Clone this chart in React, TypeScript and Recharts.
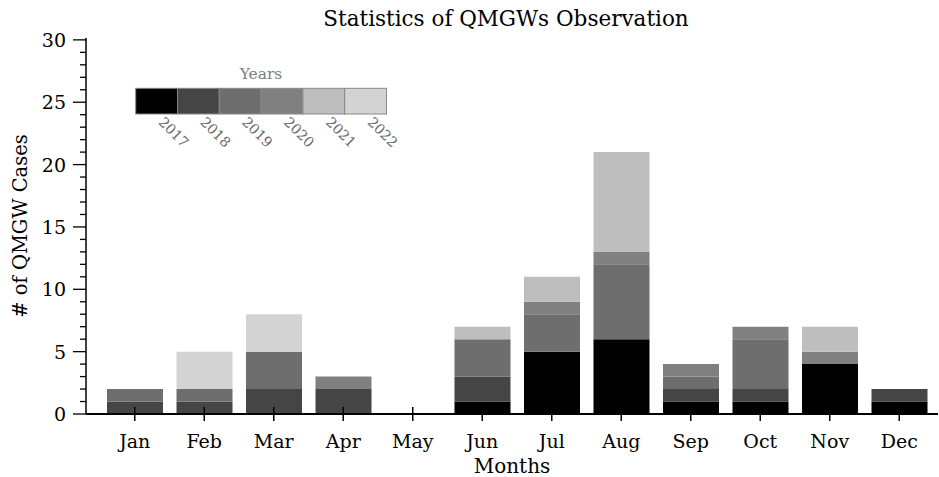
import React from 'react';
import { BarChart, Bar, XAxis, YAxis, Legend } from 'recharts';

const months = ['Jan', 'Feb', 'Mar', 'Apr', 'May', 'Jun', 'Jul', 'Aug', 'Sep', 'Oct', 'Nov', 'Dec'];
const years = ['2017', '2018', '2019', '2020', '2021', '2022'];

// cases per month, one array per year
const cases2017 = [0, 0, 0, 0, 0, 1, 5, 6, 1, 1, 4, 1];
const cases2018 = [1, 1, 2, 2, 0, 2, 0, 0, 1, 1, 0, 1];
const cases2019 = [1, 1, 3, 0, 0, 3, 3, 6, 1, 4, 0, 0];
const cases2020 = [0, 0, 0, 1, 0, 0, 1, 1, 1, 1, 1, 0];
const cases2021 = [0, 0, 0, 0, 0, 1, 2, 8, 0, 0, 2, 0];
const cases2022 = [0, 3, 3, 0, 0, 0, 0, 0, 0, 0, 0, 0];

const majorTicks = [0, 5, 10, 15, 20, 25, 30];
const allTicks = [
  0, 1, 2, 3, 4, 5, 6, 7, 8, 9, 10, 11, 12, 13, 14, 15,
  16, 17, 18, 19, 20, 21, 22, 23, 24, 25, 26, 27, 28, 29, 30,
];

const yearColors = ['#000000', '#454545', '#6e6e6e', '#808080', '#bebebe', '#d3d3d3'];
const FONT = '"DejaVu Serif", serif';

const series = [cases2017, cases2018, cases2019, cases2020, cases2021, cases2022];
const data = months.map((month, i) => {
  const row: Record<string, string | number> = { month };
  years.forEach((y, k) => {
    row[y] = series[k][i];
  });
  return row;
});

const MonthTick = ({ x, y, payload }: any) => (
  <g>
    <line x1={x} x2={x} y1={y - 7} y2={y + 7} stroke="#000" strokeWidth={1.5} />
    <text x={x} y={y + 34} textAnchor="middle" fontSize={19} fontFamily={FONT} fill="#000">
      {payload.value}
    </text>
  </g>
);

const CountTick = ({ x, y, payload }: any) => {
  const major = majorTicks.includes(payload.value);
  return (
    <g>
      <line x1={x - (major ? 13 : 6)} x2={x} y1={y} y2={y} stroke="#000" strokeWidth={1.3} />
      {major && (
        <text x={x - 20} y={y + 7} textAnchor="end" fontSize={19} fontFamily={FONT} fill="#000">
          {payload.value}
        </text>
      )}
    </g>
  );
};

const YearLegend = ({ payload }: any) => {
  const items = [...(payload || [])].sort((a, b) => String(a.value).localeCompare(String(b.value)));
  const w = 41.8;
  return (
    <svg width={300} height={110} style={{ overflow: 'visible' }}>
      <text x={141} y={24} textAnchor="middle" fontSize={15.5} fontFamily={FONT} fill="#808080">
        Years
      </text>
      {items.map((item: any, i: number) => {
        const lx = 15.7 + i * w + 22;
        return (
          <g key={item.value}>
            <rect x={15.7 + i * w} y={33.3} width={w} height={25.7} fill={item.color} stroke="#888" strokeWidth={1} />
            <text x={lx} y={68} transform={`rotate(45 ${lx} 68)`} fontSize={14} fontFamily={FONT} fill="#666">
              {item.value}
            </text>
          </g>
        );
      })}
    </svg>
  );
};

export default function App() {
  return (
    <div style={{ position: 'absolute', left: 0, top: 0, width: 939, height: 477, background: '#fff' }}>
      <div
        style={{
          position: 'absolute',
          left: 80,
          width: 852,
          top: 6,
          textAlign: 'center',
          fontFamily: FONT,
          fontSize: 21.5,
          lineHeight: '26px',
          color: '#000',
        }}
      >
        Statistics of QMGWs Observation
      </div>
      <BarChart width={939} height={477} data={data} margin={{ top: 38, right: 1, left: 0, bottom: 0 }}>
        <XAxis xAxisId="top" orientation="top" height={0} tick={false} tickLine={false} axisLine={{ stroke: '#000', strokeWidth: 1 }} />
        <XAxis
          xAxisId="ends"
          type="number"
          domain={[0, 1]}
          ticks={[0, 1]}
          allowDataOverflow
          height={0}
          axisLine={false}
          tick={false}
          tickSize={7}
          tickLine={{ stroke: '#000', strokeWidth: 1.5 }}
        />
        <XAxis
          xAxisId="m"
          dataKey="month"
          height={63}
          padding={{ left: 14, right: 4 }}
          interval={0}
          tickSize={0}
          tickMargin={0}
          tickLine={false}
          tick={<MonthTick />}
          axisLine={{ stroke: '#000', strokeWidth: 2 }}
          label={{ value: 'Months', position: 'insideBottom', offset: 4, fontSize: 20, fontFamily: FONT, fill: '#000' }}
        />
        <YAxis
          type="number"
          width={86}
          domain={[0, 30.15]}
          allowDataOverflow
          ticks={allTicks}
          interval={0}
          tickSize={0}
          tickMargin={0}
          tickLine={false}
          tick={<CountTick />}
          axisLine={{ stroke: '#000', strokeWidth: 1.5 }}
          label={{
            content: () => (
              <text x={27} y={226} transform="rotate(-90 27 226)" textAnchor="middle" fontSize={19.5} fontFamily={FONT} fill="#000">
                # of QMGW Cases
              </text>
            ),
          }}
        />
        <Legend
          layout="horizontal"
          verticalAlign="middle"
          align="center"
          content={<YearLegend />}
          wrapperStyle={{ position: 'absolute', left: 120, top: 55, width: 300, height: 110 }}
        />
        {years.map((y, k) => (
          <Bar key={y} xAxisId="m" dataKey={y} name={y} stackId="a" fill={yearColors[k]} barSize={56} isAnimationActive={false} />
        ))}
      </BarChart>
    </div>
  );
}
